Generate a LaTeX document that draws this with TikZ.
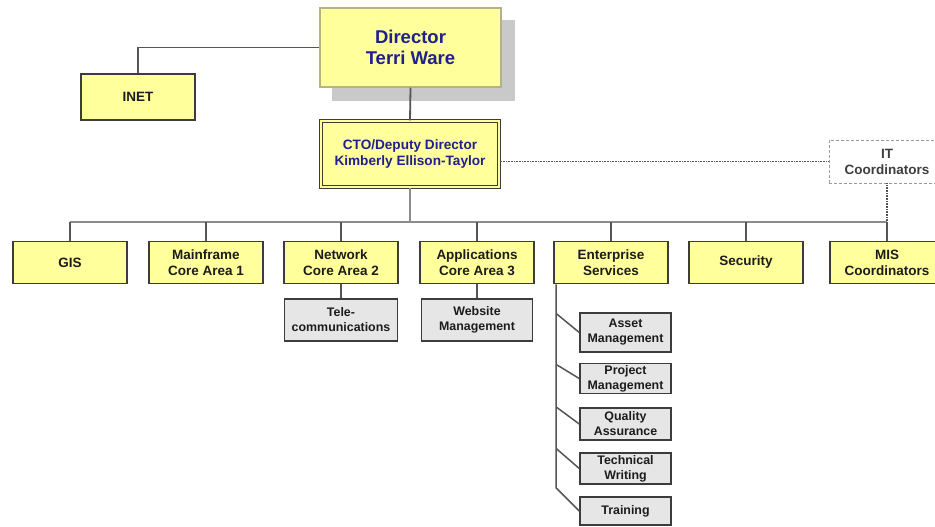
\documentclass[tikz,border=0pt]{standalone}
\usepackage{fontspec}
\setmainfont{Liberation Sans}
\usetikzlibrary{backgrounds,calc}
\definecolor{yel}{HTML}{FFFF9C}
\definecolor{bordc}{HTML}{3C3C3C}
\definecolor{dirbord}{HTML}{B4B482}
\definecolor{shadc}{HTML}{C9C9C9}
\definecolor{subfill}{HTML}{E6E6E6}
\definecolor{bluet}{HTML}{20208C}
\definecolor{txtc}{HTML}{1C1C1C}
\definecolor{linec}{HTML}{555555}
\definecolor{buslc}{HTML}{8C8C8C}
\definecolor{itcc}{HTML}{9A9A9A}
\newcommand{\lvlfont}{\fontsize{13.5}{16}\selectfont\bfseries}
\newcommand{\subfnt}{\fontsize{12.4}{15}\selectfont\bfseries}
\newcommand{\dirfont}{\fontsize{18.5}{21}\selectfont\bfseries}
\newcommand{\ctofont}{\fontsize{13.6}{16}\selectfont\bfseries}
\begin{document}
\begin{tikzpicture}[x=1pt,y=-1pt,
  lvlbox/.style={draw=bordc,fill=yel,line width=1.6pt,minimum width=114pt,minimum height=42pt,
    inner sep=0pt,align=center,font=\lvlfont,text=txtc},
  subbox/.style={draw=bordc,fill=subfill,line width=1.5pt,minimum width=113pt,minimum height=42pt,
    inner sep=0pt,align=center,font=\subfnt,text=txtc},
  esbox/.style={subbox,minimum width=91pt},
  conn/.style={draw=linec,line width=1.8pt},
  busline/.style={draw=buslc,line width=1.2pt},
  dotline/.style={draw=linec,line width=1.1pt,dash pattern=on 0.8pt off 0.8pt}]
\useasboundingbox (0,0) rectangle (935,527);
\begin{scope}[on background layer]
  \fill[white] (0,0) rectangle (935,527);
\end{scope}
% director and CTO
\node[draw=dirbord,fill=yel,line width=1.5pt,minimum width=181pt,minimum height=79pt,inner sep=0pt,
  align=center,font=\dirfont,text=bluet] (dir) at (410.5,47.5) {Director\\[0pt]Terri Ware};
\begin{scope}[on background layer]
  \fill[shadc] ([shift={(13,13)}]dir.north west) rectangle ([shift={(13,13)}]dir.south east);
\end{scope}
\node[lvlbox] (inet) at (138,97) [minimum height=46pt] {INET};
\node[draw=bordc,double=yel,double distance=2.2pt,line width=1.1pt,fill=yel,minimum width=178pt,
  minimum height=66pt,inner sep=0pt,align=center,font=\ctofont,text=bluet] (cto) at (410,154)
  {CTO/Deputy Director\\Kimberly Ellison-Taylor};
\node[draw=itcc,dash pattern=on 3pt off 2pt,line width=0.9pt,minimum width=116pt,minimum height=43pt,
  inner sep=0pt,align=center,font=\lvlfont,text=txtc!85] (itc) at (887,161.5) {IT\\Coordinators};
% level
\coordinate (busy) at (0,222);
\node[lvlbox] (gis) at (70,262.5) {GIS};
\node[lvlbox] (mf) at (206,262.5) {Mainframe\\Core Area 1};
\node[lvlbox] (net) at (341,262.5) {Network\\Core Area 2};
\node[lvlbox] (app) at (477,262.5) {Applications\\Core Area 3};
\node[lvlbox] (ent) at (611,262.5) {Enterprise\\Services};
\node[lvlbox] (sec) at (746,262.5) {Security};
\node[lvlbox] (mis) at (887,262.5) {MIS\\Coordinators};
% sub boxes
\node[subbox] (tele) at (341,320) {Tele-\\communications};
\node[subbox,minimum width=111pt] (web) at (477,320) {Website\\Management};
\node[esbox,minimum height=39pt] (asset) at (625.5,332.5) {Asset\\Management};
\node[esbox,minimum height=30pt] (proj) at (625.5,378.5) {Project\\Management};
\node[esbox,minimum height=32pt] (qual) at (625.5,424) {Quality\\Assurance};
\node[esbox,minimum height=31pt] (tech) at (625.5,468.5) {Technical\\Writing};
\node[esbox,minimum height=28pt] (trn) at (625.5,511) {Training};
% connectors
\draw[conn] (dir.west) -| (inet.north);
\draw[conn] (dir.south) -- (cto.north);
\draw[busline] (cto.south) -- (cto.south |- busy);
\draw[busline] (gis.north |- busy) -- (mis.north |- busy);
\foreach \n in {gis,mf,net,app,ent,sec,mis}{
  \draw[conn] (\n.north) -- (\n.north |- busy);
}
\draw[dotline] (cto.east |- itc.west) -- (itc.west);
\draw[dotline] (itc.south) -- (itc.south |- busy);
\draw[conn] (net.south) -- (tele.north);
\draw[conn] (app.south) -- (web.north);
% enterprise services column
\coordinate (ev) at ([xshift=3pt]ent.south west);
\coordinate (v1) at ($(asset.west)+(-22,-19)$);
\coordinate (v2) at ($(proj.west)+(-22,-14)$);
\coordinate (v3) at ($(qual.west)+(-22,-17)$);
\coordinate (v4) at ($(tech.west)+(-22,-20)$);
\coordinate (v5) at ($(trn.west)+(-22,-23)$);
\draw[conn,line width=1.5pt] (ev) -- (ev |- v5) -- (trn.west);
\foreach \b/\v in {asset/v1,proj/v2,qual/v3,tech/v4}{
  \draw[conn,line width=1.5pt] (ev |- \v) -- (\b.west);
}
\end{tikzpicture}
\end{document}
